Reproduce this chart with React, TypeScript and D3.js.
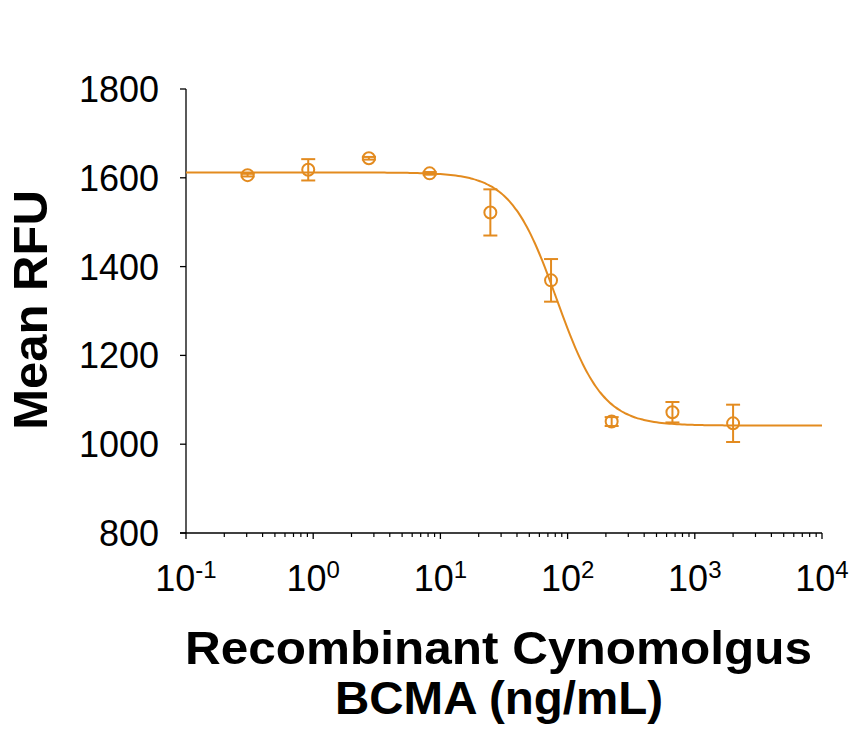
import * as d3 from 'd3';

// 3-fold dilution series (ng/mL) with mean RFU and error
const concentrations = [0.305, 0.914, 2.74, 8.23, 24.7, 74.1, 222, 667, 2000];
const meanRFU = [1606, 1618, 1644, 1610, 1522, 1369, 1051, 1072, 1047];
const errorRFU = [3, 24, 3, 3, 52, 48, 10, 23, 42];

// 4-parameter logistic fit
const fitTop = 1612;
const fitBottom = 1042;
const fitEC50 = 82;
const fitHill = 2.4;

const yTicks = [800, 1000, 1200, 1400, 1600, 1800];
const xDecades = [-1, 0, 1, 2, 3, 4];

const W = 864;
const H = 734;
const ORANGE = '#E38B1F';
const FONT = '"Liberation Sans", Arial, sans-serif';

export default function App() {
  const x = d3.scaleLog().domain([0.1, 10000]).range([186, 822]);
  const y = d3.scaleLinear().domain([800, 1800]).range([533, 89]);

  const fit = (c: number) => fitBottom + (fitTop - fitBottom) / (1 + Math.pow(c / fitEC50, fitHill));
  const curveX = d3.range(-1, 4.0001, 0.02).map((e) => Math.pow(10, e));
  const line = d3
    .line<number>()
    .x((c) => x(c))
    .y((c) => y(fit(c)))
    .curve(d3.curveMonotoneX);

  const minorTicks: number[] = [];
  xDecades.slice(0, -1).forEach((e) => {
    for (let k = 2; k <= 9; k++) minorTicks.push(k * Math.pow(10, e));
  });

  const pts = concentrations.map((c, i) => ({ c, m: meanRFU[i], e: errorRFU[i] }));

  return (
    <div style={{ position: 'absolute', left: 0, top: 0, background: '#fff' }}>
      <svg width={W} height={H} style={{ display: 'block' }} fontFamily={FONT}>
        <rect width={W} height={H} fill="#fff" />

        {/* y axis */}
        <line x1={186} x2={186} y1={y(1800)} y2={y(800)} stroke="#000" strokeWidth={1.3} />
        {yTicks.map((t) => (
          <g key={t}>
            <line x1={180} x2={186} y1={y(t)} y2={y(t)} stroke="#000" strokeWidth={1.3} />
            <text x={159} y={y(t) + 13} textAnchor="end" fontSize={36} fill="#000">
              {t}
            </text>
          </g>
        ))}

        {/* x axis */}
        <line x1={180} x2={x(10000)} y1={533} y2={533} stroke="#000" strokeWidth={1.3} />
        {minorTicks.map((t) => (
          <line key={t} x1={x(t)} x2={x(t)} y1={533} y2={537} stroke="#000" strokeWidth={1.2} />
        ))}
        {xDecades.map((e) => (
          <g key={e}>
            <line x1={x(Math.pow(10, e))} x2={x(Math.pow(10, e))} y1={533} y2={539} stroke="#000" strokeWidth={1.3} />
            <text x={x(Math.pow(10, e))} y={591} textAnchor="middle" fontSize={36} fill="#000">
              10
              <tspan dy={-13} fontSize={24}>
                {e}
              </tspan>
            </text>
          </g>
        ))}

        {/* fitted curve */}
        <path d={line(curveX) ?? ''} fill="none" stroke={ORANGE} strokeWidth={2} />

        {/* points with error bars */}
        {pts.map((p) => {
          const cx = x(p.c);
          const top = y(p.m + p.e);
          const bot = y(p.m - p.e);
          return (
            <g key={p.c} stroke={ORANGE} strokeWidth={2} fill="none">
              <line x1={cx} x2={cx} y1={top} y2={bot} />
              <line x1={cx - 7} x2={cx + 7} y1={top} y2={top} />
              <line x1={cx - 7} x2={cx + 7} y1={bot} y2={bot} />
              <circle cx={cx} cy={y(p.m)} r={6} fill="none" />
            </g>
          );
        })}

        {/* axis titles */}
        <text
          transform={`translate(47, 310) rotate(-90)`}
          textAnchor="middle"
          fontSize={49}
          fontWeight="bold"
          fill="#000"
        >
          Mean RFU
        </text>
        <text
          x={498.5}
          y={664}
          textAnchor="middle"
          fontSize={47}
          fontWeight="bold"
          fill="#000"
          textLength={627}
          lengthAdjust="spacingAndGlyphs"
        >
          Recombinant Cynomolgus
        </text>
        <text
          x={499}
          y={714}
          textAnchor="middle"
          fontSize={47}
          fontWeight="bold"
          fill="#000"
          textLength={328}
          lengthAdjust="spacingAndGlyphs"
        >
          BCMA (ng/mL)
        </text>
      </svg>
    </div>
  );
}
